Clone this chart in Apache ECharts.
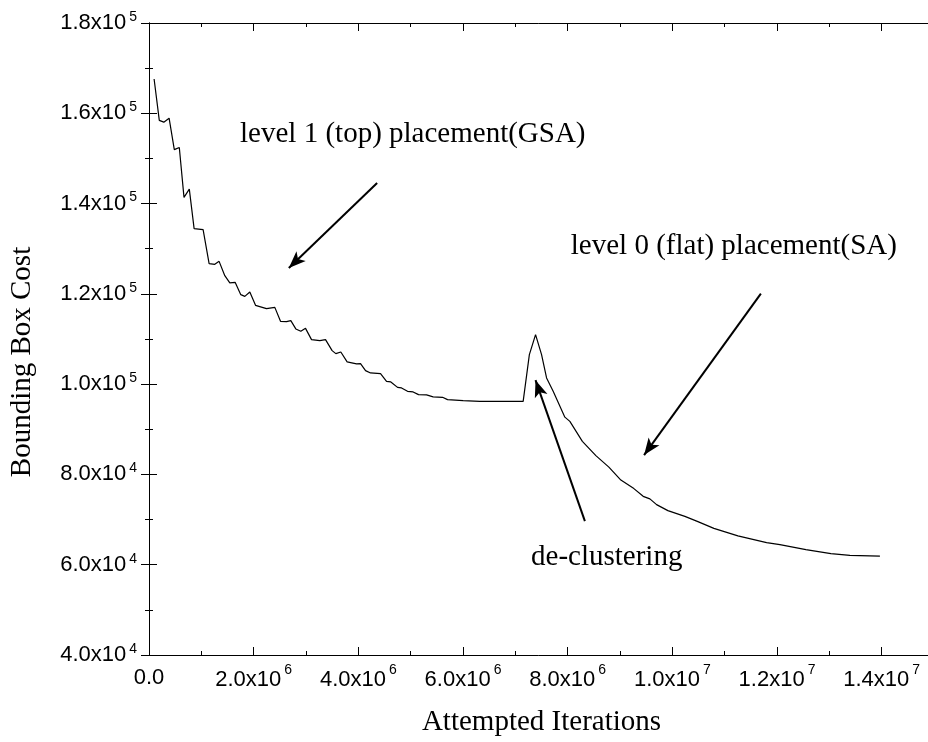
<!DOCTYPE html>
<html>
<head>
<meta charset="utf-8">
<script src="https://cdn.jsdelivr.net/npm/echarts@6/dist/echarts.min.js"></script>
<style>html,body{margin:0;padding:0;background:#fff}#c{width:928px;height:742px}</style>
</head>
<body>
<div id="c"></div>
<script>
// ---- data ----
const iterations = [97500,196800,282800,384100,483500,579100,668900,770200,861900,1033900,
  1148600,1257500,1339700,1448600,1544200,1645500,1754400,1830900,1926400,2035400,
  2245600,2404200,2513100,2627800,2710000,2805500,2901100,2990900,3105600,3264200,
  3373100,3499300,3570000,3665500,3785900,3965600,4042000,4137600,4233100,4424300,
  4538900,4621100,4749200,4825600,4940300,5047300,5150500,5303400,5429500,5609200,
  5704700,6002900,6322000,7149500,7268000,7386500,7501200,7596800,7722900,7946500,
  8042000,8280900,8538900,8787400,9016700,9265200,9442900,9570900,9699000,9915000,
  10239900,10488300,10794100,11252700,11801200,12055400,12552300,13030100,13393200,13966500];
const cost = [167600,158430,158030,158920,151940,152430,141370,143190,134440,134220,
  126690,126540,127200,124030,122420,122550,119820,119450,120420,117460,
  116720,117010,113910,113840,114070,112230,111700,112360,109860,109640,
  109860,107420,106760,107130,104920,104480,104540,102990,102480,102330,
  100620,100490,99290,99160,98410,98270,97680,97610,97170,97080,
  96570,96350,96190,96190,106540,110970,106540,101380,98410,92690,
  91760,87330,84170,81620,78740,76860,75150,74580,73310,71980,
  70720,69550,68060,66400,64890,64450,63340,62460,62060,61900];

const xTickValues = [0,2e6,4e6,6e6,8e6,1e7,1.2e7,1.4e7];
const xTickLabels = ['0.0','2.0|6','4.0|6','6.0|6','8.0|6','1.0|7','1.2|7','1.4|7'];
const yTickValues = [4e4,6e4,8e4,1e5,1.2e5,1.4e5,1.6e5,1.8e5];
const yTickLabels = ['4.0|4','6.0|4','8.0|4','1.0|5','1.2|5','1.4|5','1.6|5','1.8|5'];

const annotations = [
  {text:'level 1 (top) placement(GSA)', at:[1740000,155300]},
  {text:'level 0 (flat) placement(SA)', at:[8060000,130600]},
  {text:'de-clustering', at:[7300000,61700]}
];
const arrows = [
  {from:[4359000,144560], to:[2672000,125740]},
  {from:[11692000,120050], to:[9460000,84280]},
  {from:[8329000,69660], to:[7386000,100890]}
];

// ---- chart ----
const SANS = 'Liberation Sans, Arial, sans-serif';
const SERIF = 'Liberation Serif, Times New Roman, serif';
const GRID = {left:149, top:23, right:-6, bottom:87, outerBoundsMode:'none', containLabel:false};

function fmt(label, isX){
  if (label === undefined) return '';
  if (label.indexOf('|') < 0) return '{z|' + label + '}';
  const p = label.split('|');
  return '{m|' + p[0] + 'x10}{' + (isX ? 'sx' : 'sy') + '|' + p[1] + '}';
}
const rich = {
  m:{fontFamily:SANS, fontSize:22, lineHeight:22, color:'#000'},
  z:{fontFamily:SANS, fontSize:22, lineHeight:30, color:'#000'},
  sx:{fontFamily:SANS, fontSize:14, lineHeight:34, verticalAlign:'top', padding:[0,0,0,3], color:'#000'},
  sy:{fontFamily:SANS, fontSize:14, lineHeight:26, verticalAlign:'top', padding:[0,0,0,3], color:'#000'}
};
const lineBlack = {show:true, lineStyle:{color:'#000', width:1}};

function xAxisDef(gridIndex, position, major, labels){
  return {
    type:'value', gridIndex, position, min:0, max:1.5e7, interval: major ? 2e6 : 1e6,
    axisLine: major ? lineBlack : {show:false},
    axisTick:{show:true, inside:true, length: major ? 8 : 4, lineStyle:{color:'#000', width:1}},
    axisLabel: labels ? {show:true, margin:8, rich,
      formatter: v => { const i = xTickValues.indexOf(v); return i < 0 ? '' : fmt(xTickLabels[i], true); }} : {show:false},
    splitLine:{show:false}
  };
}
function yAxisDef(gridIndex, position, major, labels){
  return {
    type:'value', gridIndex, position, min:4e4, max:1.8e5, interval: major ? 2e4 : 1e4,
    axisLine: major ? lineBlack : {show:false},
    axisTick:{show:true, inside:true, length: major ? 8 : 4, lineStyle:{color:'#000', width:1}},
    axisLabel: labels ? {show:true, margin:12, rich,
      formatter: v => { const i = yTickValues.indexOf(v); return i < 0 ? '' : fmt(yTickLabels[i], false); }} : {show:false},
    splitLine:{show:false}
  };
}

const chart = echarts.init(document.getElementById('c'), null, {renderer:'canvas'});
chart.setOption({
  animation:false,
  backgroundColor:'#fff',
  grid:[GRID, Object.assign({}, GRID)],
  xAxis:[
    Object.assign(xAxisDef(0,'bottom',true,true), {
      name:'Attempted Iterations', nameLocation:'middle', nameGap:53,
      nameTextStyle:{fontFamily:SERIF, fontSize:29, color:'#000'}
    }),
    xAxisDef(0,'top',true,false),
    xAxisDef(1,'bottom',false,false),
    xAxisDef(1,'top',false,false)
  ],
  yAxis:[
    yAxisDef(0,'left',true,true),
    yAxisDef(0,'right',true,false),
    yAxisDef(1,'left',false,false),
    yAxisDef(1,'right',false,false)
  ],
  graphic:[{
    type:'text', x:22, y:362, rotation:Math.PI/2,
    style:{text:'Bounding Box Cost', fontFamily:SERIF, fontSize:29, fill:'#000',
      textAlign:'center', textVerticalAlign:'middle'}
  }],
  series:[{
    type:'line', xAxisIndex:0, yAxisIndex:0,
    data: iterations.map((x,i)=>[x,cost[i]]),
    showSymbol:false, symbol:'none', silent:true,
    lineStyle:{color:'#000', width:1.2},
    markPoint:{
      silent:true, symbol:'circle', symbolSize:0,
      label:{show:true, position:'right', distance:0, fontFamily:SERIF, fontSize:29, color:'#000',
        formatter: p => p.name},
      data: annotations.map(a => ({name:a.text, coord:a.at}))
    },
    markLine:{
      silent:true, animation:false,
      label:{show:false},
      lineStyle:{color:'#000', width:2, type:'solid'},
      emphasis:{disabled:true},
      data: arrows.map(a => [
        {coord:a.from, symbol:'none'},
        {coord:a.to, symbol:'arrow', symbolSize:[10,17]}
      ])
    }
  }]
});
</script>
</body>
</html>
